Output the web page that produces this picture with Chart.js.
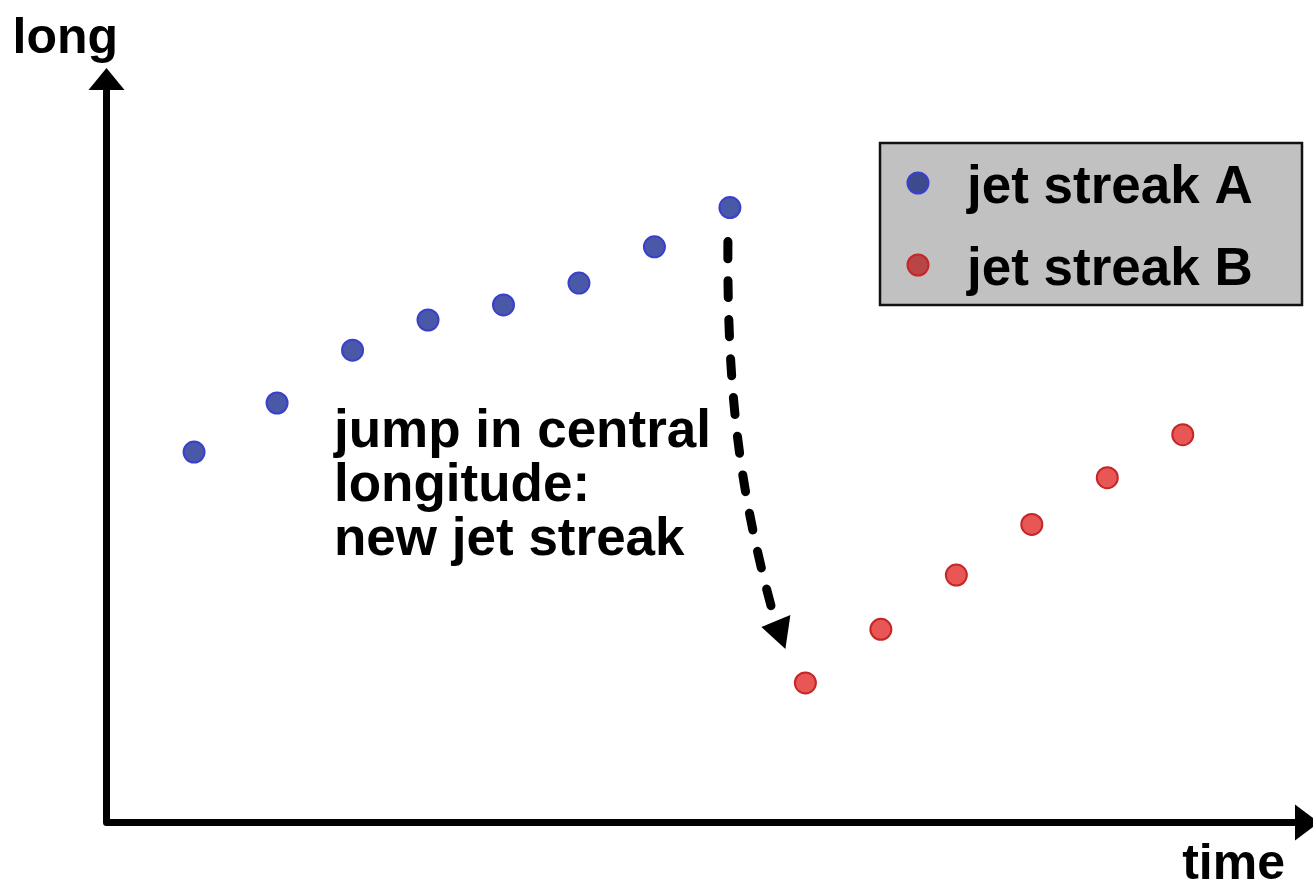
<!DOCTYPE html>
<html>
<head>
<meta charset="utf-8">
<script src="https://cdn.jsdelivr.net/npm/chart.js@4"></script>
<style>
  html, body { margin: 0; padding: 0; background: #ffffff; overflow: hidden; }
  #c { display: block; }
</style>
</head>
<body>
<canvas id="c" width="1313" height="889"></canvas>
<script>
// ---- data ----
const seriesLabels = ['jet streak A', 'jet streak B'];
const timeA = [0.9, 2, 3, 4, 5, 6, 7, 8];
const longA = [49.1, 55.6, 62.6, 66.6, 68.6, 71.5, 76.3, 81.5];
const timeB = [9, 10, 11, 12, 13, 14];
const longB = [18.5, 25.6, 32.8, 39.5, 45.7, 51.4];
const yAxisLabel = 'long';
const xAxisLabel = 'time';
const noteLines = ['jump in central', 'longitude:', 'new jet streak'];

const FONT_AXIS = 'bold 50px "Liberation Sans", Arial, Helvetica, sans-serif';
const FONT_TEXT = 'bold 53px "Liberation Sans", Arial, Helvetica, sans-serif';

const toPts = (xs, ys) => xs.map((x, i) => ({ x: x, y: ys[i] }));

const schematicPlugin = {
  id: 'schematic',
  beforeDatasetsDraw(chart) {
    const ctx = chart.ctx;
    const a = chart.chartArea;
    const W = chart.width;
    ctx.save();
    // axes with arrows
    ctx.strokeStyle = '#000';
    ctx.fillStyle = '#000';
    ctx.lineWidth = 7;
    ctx.lineJoin = 'round';
    ctx.beginPath();
    ctx.moveTo(a.left, a.top + 20);
    ctx.lineTo(a.left, a.bottom);
    ctx.lineTo(W - 16, a.bottom);
    ctx.stroke();
    // y arrow head
    ctx.beginPath();
    ctx.moveTo(a.left, a.top);
    ctx.lineTo(a.left - 18, a.top + 22);
    ctx.lineTo(a.left + 18, a.top + 22);
    ctx.closePath();
    ctx.fill();
    // x arrow head
    ctx.beginPath();
    ctx.moveTo(W + 6, a.bottom);
    ctx.lineTo(W - 18, a.bottom - 18);
    ctx.lineTo(W - 18, a.bottom + 18);
    ctx.closePath();
    ctx.fill();

    // axis labels
    ctx.font = FONT_AXIS;
    ctx.textBaseline = 'alphabetic';
    ctx.textAlign = 'left';
    ctx.fillText(yAxisLabel, a.left - 94, a.top - 15);
    ctx.textAlign = 'right';
    ctx.fillText(xAxisLabel, W - 28, a.bottom + 56);

    // annotation text
    ctx.font = FONT_TEXT;
    ctx.textAlign = 'left';
    noteLines.forEach((t, i) => ctx.fillText(t, 334, 447 + i * 54));

    // dashed curved arrow from last A point to first B point
    const dsA = chart.getDatasetMeta(0).data;
    const dsB = chart.getDatasetMeta(1).data;
    const pA = dsA[dsA.length - 1];
    const pB = dsB[0];
    const sx = pA.x - 2, sy = pA.y + 34;
    const ex = pB.x - 33, ey = pB.y - 72;
    ctx.setLineDash([17, 22]);
    ctx.lineCap = 'round';
    ctx.lineWidth = 9;
    ctx.beginPath();
    ctx.moveTo(sx, sy);
    ctx.bezierCurveTo(sx - 1, sy + 150, sx + 12, sy + 250, ex, ey);
    ctx.stroke();
    ctx.setLineDash([]);
    ctx.beginPath();
    ctx.moveTo(pB.x - 20, pB.y - 34);
    ctx.lineTo(pB.x - 44, pB.y - 56);
    ctx.lineTo(pB.x - 15, pB.y - 68);
    ctx.closePath();
    ctx.fill();
    ctx.restore();
  },
  afterDraw(chart) {
    const ctx = chart.ctx;
    const W = chart.width;
    // legend box
    const bx = W - 433, by = 143, bw = 422, bh = 162;
    ctx.save();
    ctx.fillStyle = '#c1c1c1';
    ctx.fillRect(bx, by, bw, bh);
    ctx.lineWidth = 2.5;
    ctx.strokeStyle = '#111';
    ctx.strokeRect(bx, by, bw, bh);
    const legendFill = ['#3d4a8e', '#b84646'];
    chart.data.datasets.forEach((ds, i) => {
      const cy = by + 40 + i * 82;
      ctx.beginPath();
      ctx.arc(bx + 38, cy, 10.5, 0, Math.PI * 2);
      ctx.fillStyle = legendFill[i];
      ctx.fill();
      ctx.lineWidth = 2;
      ctx.strokeStyle = ds.borderColor;
      ctx.stroke();
      ctx.fillStyle = '#000';
      ctx.font = FONT_TEXT;
      ctx.textAlign = 'left';
      ctx.textBaseline = 'alphabetic';
      ctx.fillText(ds.label, bx + 87, cy + 20);
    });
    ctx.restore();
  }
};

new Chart(document.getElementById('c'), {
  type: 'scatter',
  data: {
    datasets: [
      {
        label: seriesLabels[0],
        data: toPts(timeA, longA),
        backgroundColor: '#4a58a8',
        borderColor: '#3a40cc',
        borderWidth: 2,
        pointRadius: 10.5,
        clip: false
      },
      {
        label: seriesLabels[1],
        data: toPts(timeB, longB),
        backgroundColor: '#e85656',
        borderColor: '#c62626',
        borderWidth: 2,
        pointRadius: 10.5,
        clip: false
      }
    ]
  },
  options: {
    responsive: false,
    animation: false,
    devicePixelRatio: 1,
    layout: { padding: { left: 106.5, right: 0, top: 68, bottom: 66.5 } },
    plugins: { legend: { display: false }, tooltip: { enabled: false } },
    scales: {
      x: { type: 'linear', min: -0.26, max: 15.56, display: false },
      y: { type: 'linear', min: 0, max: 100, display: false }
    }
  },
  plugins: [schematicPlugin]
});
</script>
</body>
</html>
